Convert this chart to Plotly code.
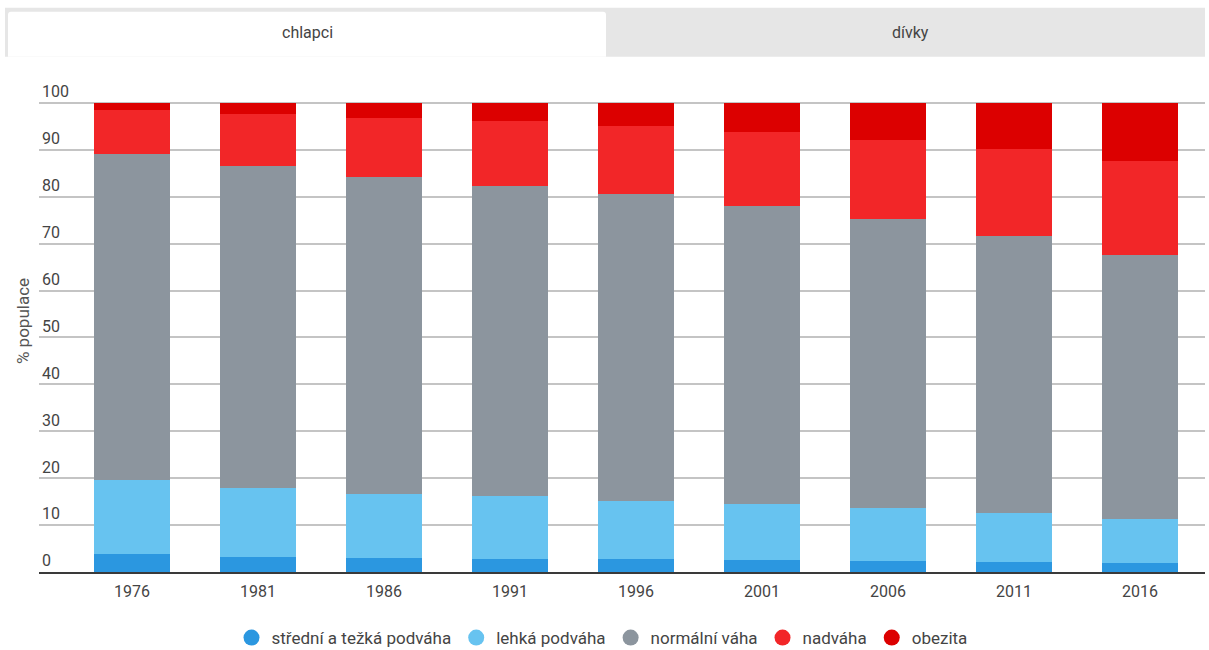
import plotly.graph_objects as go

years = ["1976", "1981", "1986", "1991", "1996", "2001", "2006", "2011", "2016"]
stredni = [3.8, 3.3, 3.0, 2.8, 2.7, 2.5, 2.4, 2.2, 1.9]
lehka = [15.8, 14.7, 13.6, 13.3, 12.5, 11.9, 11.2, 10.3, 9.5]
normalni = [69.6, 68.5, 67.7, 66.2, 65.4, 63.6, 61.7, 59.2, 56.2]
nadvaha = [9.2, 11.1, 12.4, 13.8, 14.5, 15.7, 16.8, 18.4, 20.1]
obezita = [1.6, 2.4, 3.3, 3.9, 4.9, 6.3, 7.9, 9.9, 12.3]

series = [
    ("střední a težká podváha", stredni, "#2b97e0"),
    ("lehká podváha", lehka, "#67c3f0"),
    ("normální váha", normalni, "#8c959e"),
    ("nadváha", nadvaha, "#f22628"),
    ("obezita", obezita, "#dc0000"),
]
tabs = ["chlapci", "dívky"]

W, H = 1209, 650
YMAX = 107.0
UNIT = (572 - 103) / 100.0
L, R, B = 39, 1205, 572
T = B - YMAX * UNIT  # top of plot area in pixels


def px(x):
    return (x - L) / (R - L)


def py(y):
    return (B - y) / (B - T)


fig = go.Figure()
for name, vals, col in series:
    fig.add_trace(go.Bar(x=years, y=vals, name=name, marker=dict(color=col, line=dict(width=0)),
                         showlegend=False, hovertemplate="%{y}<extra>" + name + "</extra>"))
for name, vals, col in series:
    fig.add_trace(go.Scatter(x=[None], y=[None], mode="markers", name=name,
                             marker=dict(color=col, size=18, symbol="circle")))

shapes = [
    dict(type="rect", xref="paper", yref="paper", x0=px(5), x1=px(1205), y0=py(57), y1=py(8),
         fillcolor="#e6e6e6", line=dict(width=0), layer="below"),
    dict(type="path", xref="paper", yref="paper",
         path=f"M {px(8)} {py(57)} L {px(8)} {py(15)} Q {px(8)} {py(12)} {px(11)} {py(12)} "
              f"L {px(603)} {py(12)} Q {px(606)} {py(12)} {px(606)} {py(15)} L {px(606)} {py(57)} Z",
         fillcolor="#ffffff", line=dict(width=0), layer="below"),
]
annotations = [
    dict(text=tabs[0], xref="paper", yref="paper", x=px(307), y=py(33), showarrow=False,
         xanchor="center", yanchor="middle",
         font=dict(size=16, color="#444444", family="Roboto")),
    dict(text=tabs[1], xref="paper", yref="paper", x=px(910), y=py(33), showarrow=False,
         xanchor="center", yanchor="middle",
         font=dict(size=16, color="#444444", family="Roboto")),
]

fig.update_layout(
    width=W, height=H,
    margin=dict(l=L, r=W - R, t=T, b=H - B, autoexpand=False),
    barmode="stack", bargap=0.39,
    plot_bgcolor="white", paper_bgcolor="white",
    font=dict(family="Roboto", size=16, color="#444444"),
    shapes=shapes, annotations=annotations,
    legend=dict(orientation="h", x=px(602), xanchor="center", y=py(638), yanchor="middle",
                traceorder="normal", font=dict(size=17, color="#444444"), itemsizing="trace"),
    xaxis=dict(type="category", range=[-0.738, 8.516], showgrid=False, showline=True,
               linecolor="#3a3a3a", linewidth=2, ticks="", ticklabelstandoff=4,
               tickfont=dict(size=16, color="#444444")),
    yaxis=dict(range=[0, YMAX], tickvals=list(range(0, 101, 10)), showgrid=True,
               gridcolor="#c4c4c4", gridwidth=1.5,
               zeroline=False, ticklabelposition="inside top", tickfont=dict(size=16, color="#444444"),
               title=dict(text="% populace", standoff=8, font=dict(size=17, color="#555555"))),
)

fig.write_html("out.html")
